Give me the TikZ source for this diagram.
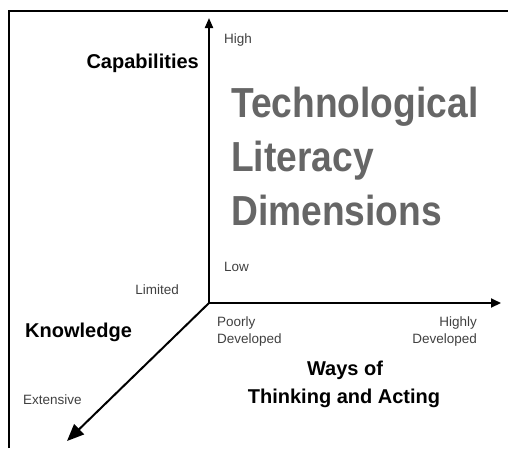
\documentclass[tikz,border=0pt]{standalone}
\usepackage{fontspec}
\setmainfont{Liberation Sans}
\newfontfamily\condfont[FakeStretch=0.885]{Liberation Sans}
\usetikzlibrary{arrows.meta}

\begin{document}
\begin{tikzpicture}[x=1pt,y=-1pt,
  axis/.style={line width=2pt},
  small/.style={inner sep=0pt,text=black!75,font=\fontsize{13.5}{17}\selectfont},
  heading/.style={inner sep=0pt,font=\bfseries\fontsize{20}{28}\selectfont},
  bigtitle/.style={inner sep=0pt,text=black!60,font=\condfont\bfseries\fontsize{42}{54}\selectfont}]
\useasboundingbox (0,0) rectangle (508,448);
% frame, cut off at right and bottom
\draw [line width=2.5pt] (9,448) -- (9,11) -- (508,11);

% axes
\coordinate (O) at (209,303);
\coordinate (capTip) at (209,18);
\coordinate (wayTip) at (501,303);
\coordinate (knowTip) at (67,441);
\draw [axis,-{Triangle[length=10pt,width=8pt]}] (O) -- (capTip);
\draw [axis,-{Triangle[length=10pt,width=9pt]}] (O) -- (wayTip);
\draw [axis,-{Triangle[length=17pt,width=14pt]}] (O) -- (knowTip);

% axis titles
\node [heading,anchor=base east] (cap) at (199,68) {Capabilities};
\node [heading,anchor=base west] (know) at (25,337) {Knowledge};
\node [heading,anchor=base] (ways1) at (345,375) {Ways of};
\node [heading,anchor=base] (ways2) at (344,403) {Thinking and Acting};

% big title
\node [bigtitle,anchor=base west] (tl1) at (231,117) {Technological};
\node [bigtitle,anchor=base west] (tl2) at (231,171) {Literacy};
\node [bigtitle,anchor=base west] (tl3) at (231,225) {Dimensions};

% end labels
\node [small,anchor=base west] (high) at (224,43) {High};
\node [small,anchor=base west] (low) at (224,271) {Low};
\node [small,anchor=base east] (limited) at (179,294) {Limited};
\node [small,anchor=base west] (extensive) at (23,404) {Extensive};
\node [small,anchor=base west] (poor1) at (217,326) {Poorly};
\node [small,anchor=base west] (poor2) at (217,343) {Developed};
\node [small,anchor=base east] (highly1) at (477,326) {Highly};
\node [small,anchor=base east] (highly2) at (477,343) {Developed};
\end{tikzpicture}
\end{document}
